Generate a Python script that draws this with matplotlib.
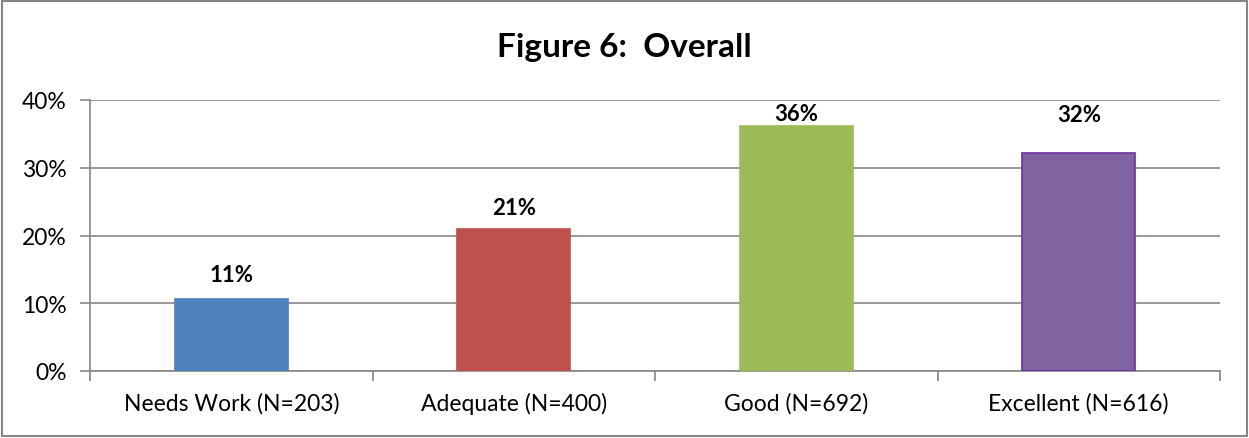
import matplotlib.pyplot as plt
from matplotlib.patches import Rectangle
from matplotlib.ticker import PercentFormatter

# Overall rating share per category
categories = ['Needs Work (N=203)', 'Adequate (N=400)', 'Good (N=692)', 'Excellent (N=616)']
shares = [0.106, 0.209, 0.362, 0.322]

colors = ['#4F81BD', '#C0504D', '#9BBB59', '#8064A2']
edges = ['#4F81BD', '#C0504D', '#9BBB59', '#7030A0']
# vertical offset (points) of each value label above its bar
label_offsets = [10, 8, 1, 20]

plt.rcParams['font.family'] = ['Lato', 'DejaVu Sans']

fig = plt.figure(figsize=(12.49, 4.39), dpi=100)
ax = fig.add_axes([90 / 1249, 1 - 372 / 439, 1130 / 1249, 271 / 439])

x = range(len(categories))
ax.bar(x, shares, width=0.4, color=colors, edgecolor=edges, linewidth=1.2, zorder=3)

for i, v in enumerate(shares):
    ax.annotate(f'{v:.0%}', (i, v), xytext=(0, label_offsets[i]), textcoords='offset points',
                ha='center', va='bottom', fontsize=16, fontweight='bold')

ax.set_xlim(-0.5, len(categories) - 0.5)
ax.set_ylim(0, 0.4)
ax.set_yticks([0, 0.1, 0.2, 0.3, 0.4])
ax.yaxis.set_major_formatter(PercentFormatter(1.0, decimals=0))
ax.set_xticks(list(x))
ax.set_xticklabels(categories)
ax.set_xticks([i - 0.5 for i in range(len(categories) + 1)], minor=True)

ax.tick_params(axis='x', which='major', length=0, pad=15, labelsize=16.5)
ax.tick_params(axis='x', which='minor', length=7, color='#868686', width=1.2)
ax.tick_params(axis='y', length=7, color='#868686', width=1.2, labelsize=16.5, pad=10)

ax.grid(axis='y', color='#868686', linewidth=1.2, zorder=0)
for side in ['top', 'right']:
    ax.spines[side].set_visible(False)
for side in ['left', 'bottom']:
    ax.spines[side].set_color('#868686')
    ax.spines[side].set_linewidth(1.2)

fig.text(0.5, 1 - 48 / 439, 'Figure 6:  Overall', ha='center', va='center',
         fontsize=24, fontweight='bold')

# outer chart border
fig.patches.append(Rectangle((2 / 1249, 2 / 439), 1245 / 1249, 435 / 439,
                             transform=fig.transFigure, fill=False,
                             edgecolor='#868686', linewidth=1.5))

fig.savefig('out.png', dpi=100)
